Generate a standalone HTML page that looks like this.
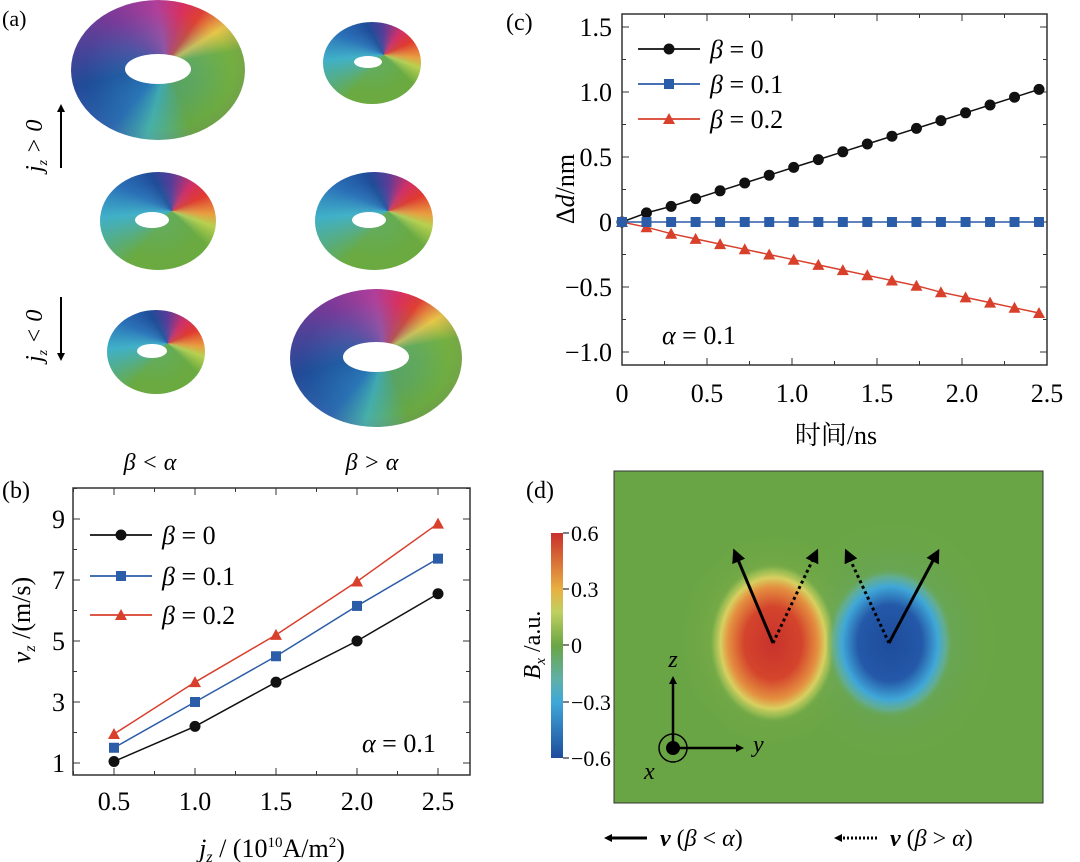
<!DOCTYPE html>
<html><head><meta charset="utf-8">
<style>
html,body{margin:0;padding:0;background:#fff;}
svg{display:block;}
svg text{font-family:"Liberation Serif","Times New Roman",serif;}
svg text.cjk{font-family:"Liberation Serif","Noto Serif CJK SC","Noto Sans CJK SC",serif;}
</style></head>
<body>
<svg id="fig" width="1080" height="862" viewBox="0 0 1080 862" xmlns="http://www.w3.org/2000/svg">
<defs>
<radialGradient id="gRed" cx="50%" cy="50%" r="50%">
<stop offset="0" stop-color="#c8322c"/><stop offset="0.45" stop-color="#d4442c"/><stop offset="0.7" stop-color="#e49040"/><stop offset="0.82" stop-color="#d8d060"/><stop offset="0.92" stop-color="#a8c458" stop-opacity="0.6"/><stop offset="1" stop-color="#6aa545" stop-opacity="0"/>
</radialGradient>
<radialGradient id="gBlue" cx="50%" cy="50%" r="50%">
<stop offset="0" stop-color="#1e4c9c"/><stop offset="0.5" stop-color="#2458a8"/><stop offset="0.75" stop-color="#40a8d8"/><stop offset="0.88" stop-color="#60b0a8" stop-opacity="0.7"/><stop offset="1" stop-color="#6aa545" stop-opacity="0"/>
</radialGradient>
<radialGradient id="gHaloR" cx="50%" cy="50%" r="50%">
<stop offset="0" stop-color="#c8c850" stop-opacity="0.8"/><stop offset="1" stop-color="#6aa545" stop-opacity="0"/>
</radialGradient>
<radialGradient id="gHaloB" cx="50%" cy="50%" r="50%">
<stop offset="0" stop-color="#60a8a0" stop-opacity="0.8"/><stop offset="1" stop-color="#6aa545" stop-opacity="0"/>
</radialGradient>
<linearGradient id="gBar" x1="0" y1="0" x2="0" y2="1">
<stop offset="0" stop-color="#c8302c"/><stop offset="0.25" stop-color="#e8b040"/><stop offset="0.35" stop-color="#c0d060"/><stop offset="0.5" stop-color="#6aa545"/><stop offset="0.65" stop-color="#60b0a8"/><stop offset="0.75" stop-color="#40a8d8"/><stop offset="1" stop-color="#1e4c9c"/>
</linearGradient>
<marker id="ah" markerWidth="8" markerHeight="8" refX="4" refY="4" orient="auto" markerUnits="userSpaceOnUse" viewBox="0 0 8 8"><path d="M0,0 L8,4 L0,8 z" fill="#000"/></marker>
<marker id="ahBig" markerWidth="14" markerHeight="14" refX="7" refY="7" orient="auto" markerUnits="userSpaceOnUse" viewBox="0 0 14 14"><path d="M0,0 L14,7 L0,14 z" fill="#000"/></marker>
</defs>

<!-- Panel (a) -->
<text x="2" y="26" font-size="22">(a)</text>
<g id="tori"></g>
<g>
<line x1="61" y1="168" x2="61" y2="108" stroke="#000" stroke-width="2" marker-end="url(#ah)"/>
<text transform="translate(42,172) rotate(-90)" font-size="24" font-style="italic">j<tspan font-size="14" dy="5">z</tspan><tspan dy="-5"> &gt; 0</tspan></text>
</g>
<g>
<line x1="61" y1="297" x2="61" y2="357" stroke="#000" stroke-width="2" marker-end="url(#ah)"/>
<text transform="translate(42,362) rotate(-90)" font-size="24" font-style="italic">j<tspan font-size="14" dy="5">z</tspan><tspan dy="-5"> &lt; 0</tspan></text>
</g>
<text x="150" y="470" font-size="24" font-style="italic" text-anchor="middle">β &lt; α</text>
<text x="372" y="470" font-size="24" font-style="italic" text-anchor="middle">β &gt; α</text>

<!-- Panel (b) -->
<text x="2" y="498" font-size="24">(b)</text>
<g id="chartB"></g>

<!-- Panel (c) -->
<text x="506" y="30" font-size="24">(c)</text>
<g id="chartC"></g>

<!-- Panel (d) -->
<text x="526" y="498" font-size="24">(d)</text>
<g>
<rect x="614" y="471" width="429" height="332" fill="#6aa545" stroke="#333" stroke-width="1"/>
<ellipse cx="773" cy="640" rx="100" ry="115" fill="url(#gHaloR)"/>
<ellipse cx="892" cy="640" rx="110" ry="125" fill="url(#gHaloB)"/>
<ellipse cx="773" cy="643" rx="64" ry="80" fill="url(#gRed)"/>
<ellipse cx="890" cy="643" rx="64" ry="76" fill="url(#gBlue)"/>
<line x1="773" y1="643" x2="736" y2="555" stroke="#000" stroke-width="3" marker-end="url(#ahBig)"/>
<line x1="773" y1="643" x2="815" y2="555" stroke="#000" stroke-width="3" stroke-dasharray="3,3" marker-end="url(#ahBig)"/>
<line x1="889" y1="643" x2="936" y2="555" stroke="#000" stroke-width="3" marker-end="url(#ahBig)"/>
<line x1="889" y1="643" x2="848" y2="555" stroke="#000" stroke-width="3" stroke-dasharray="3,3" marker-end="url(#ahBig)"/>
<g>
<circle cx="673" cy="748" r="14" fill="none" stroke="#000" stroke-width="1.5"/>
<circle cx="673" cy="748" r="7" fill="#000"/>
<line x1="673" y1="748" x2="673" y2="680" stroke="#000" stroke-width="2.5" marker-end="url(#ah)"/>
<line x1="673" y1="748" x2="740" y2="748" stroke="#000" stroke-width="2.5" marker-end="url(#ah)"/>
<text x="673" y="667" font-size="24" font-style="italic" text-anchor="middle">z</text>
<text x="753" y="752" font-size="24" font-style="italic">y</text>
<text x="644" y="779" font-size="24" font-style="italic">x</text>
</g>
</g>
<g>
<rect x="551" y="533" width="12" height="225" fill="url(#gBar)"/>
<g stroke="#000" stroke-width="1"><line x1="563" y1="533" x2="569" y2="533"/><line x1="563" y1="589" x2="569" y2="589"/><line x1="563" y1="645" x2="569" y2="645"/><line x1="563" y1="702" x2="569" y2="702"/><line x1="563" y1="758" x2="569" y2="758"/></g>
<g font-size="22"><text x="571" y="541">0.6</text><text x="571" y="597">0.3</text><text x="571" y="653">0</text><text x="571" y="710">−0.3</text><text x="571" y="766">−0.6</text></g>
<text transform="translate(540,645) rotate(-90)" font-size="24" text-anchor="middle"><tspan font-style="italic">B</tspan><tspan font-style="italic" font-size="15" dy="5">x</tspan><tspan dy="-5"> /a.u.</tspan></text>
</g>
<g>
<line x1="647" y1="838" x2="608" y2="838" stroke="#000" stroke-width="3" marker-end="url(#ah)"/>
<text x="660" y="846" font-size="24"><tspan font-weight="bold" font-style="italic">v</tspan> (<tspan font-style="italic">β</tspan> &lt; <tspan font-style="italic">α</tspan>)</text>
<line x1="877" y1="838" x2="838" y2="838" stroke="#000" stroke-width="3" stroke-dasharray="2,2" marker-end="url(#ah)"/>
<text x="890" y="846" font-size="24"><tspan font-weight="bold" font-style="italic">v</tspan> (<tspan font-style="italic">β</tspan> &gt; <tspan font-style="italic">α</tspan>)</text>
</g>
</svg>

<script>
// ===== Panel (b) data =====
const bCurrents = [0.5, 1.0, 1.5, 2.0, 2.5];
const bBeta0 = [1.05, 2.2, 3.65, 5.0, 6.55];
const bBeta01 = [1.5, 3.0, 4.5, 6.15, 7.7];
const bBeta02 = [1.95, 3.65, 5.2, 6.95, 8.85];
const bYTicks = [1, 3, 5, 7, 9];
const bXTickLabels = ["0.5", "1.0", "1.5", "2.0", "2.5"];

// ===== Panel (c) data =====
const cTimes = [0,0.144,0.289,0.433,0.577,0.722,0.866,1.01,1.155,1.299,1.443,1.588,1.732,1.876,2.021,2.165,2.309,2.453];
const cBeta0 = [0,0.07,0.12,0.18,0.24,0.30,0.36,0.42,0.48,0.54,0.60,0.66,0.72,0.78,0.84,0.90,0.96,1.02];
const cBeta01 = [0,0,0,0,0,0,0,0,0,0,0,0,0,0,0,0,0,0];
const cBeta02 = [0,-0.04,-0.09,-0.13,-0.17,-0.21,-0.25,-0.29,-0.33,-0.37,-0.41,-0.45,-0.49,-0.54,-0.58,-0.62,-0.66,-0.70];
const cYTicks = [1.5, 1.0, 0.5, 0, -0.5, -1.0];
const cYTickLabels = ["1.5", "1.0", "0.5", "0", "−0.5", "−1.0"];
const cXTicks = [0, 0.5, 1.0, 1.5, 2.0, 2.5];
const cXTickLabels = ["0", "0.5", "1.0", "1.5", "2.0", "2.5"];

const NS = "http://www.w3.org/2000/svg";
function mk(tag, attrs, parent){ const e=document.createElementNS(NS,tag); for(const k in attrs) e.setAttribute(k,attrs[k]); parent.appendChild(e); return e; }

function marker(g, kind, x, y, color){
  let m;
  if(kind==="circle") m=mk("circle",{cx:x,cy:y,r:5.5,fill:color},g);
  else if(kind==="square") m=mk("rect",{x:x-5,y:y-5,width:10,height:10,fill:color},g);
  else m=mk("path",{d:`M${x},${y-6} L${x+6},${y+5} L${x-6},${y+5} Z`,fill:color},g);
  return m;
}

function drawSeries(g, xs, ys, sx, sy, color, kind, name){
  const s=mk("g",{},g);
  
  
  const pts=xs.map((x,i)=>sx(x)+","+sy(ys[i])).join(" ");
  mk("polyline",{points:pts,fill:"none",stroke:color,"stroke-width":1.5},s);
  xs.forEach((x,i)=>{
    const m=marker(s,kind,sx(x),sy(ys[i]),color);
    
    
  });
}

function legend(g, x, y, color, kind, label, name){
  const l=mk("g",{},g);
  
  
  mk("line",{x1:x,y1:y,x2:x+62,y2:y,stroke:color,"stroke-width":1.8},l);
  marker(l,kind,x+31,y,color);
  const t=mk("text",{x:x+72,y:y+9,"font-size":26},l);
  t.innerHTML='<tspan font-style="italic">β</tspan> = '+label;
}

// ---- Chart B ----
(function(){
  const g=document.getElementById("chartB");
  const L=73,R=470,T=488,B=775;
  const sx=v=>114+(v-0.5)*(438-114)/2.0;
  const sy=v=>763-(v-1)*(763-519)/8;
  mk("rect",{x:L,y:T,width:R-L,height:B-T,fill:"none",stroke:"#333","stroke-width":1.5},g);
  for(let v=0.25; v<=2.76; v+=0.25){
    const x=sx(v); if(x<=L||x>=R) continue;
    const len = (Math.abs((v*2)-Math.round(v*2))<1e-6)?7:4;
    mk("line",{x1:x,y1:B,x2:x,y2:B-len,stroke:"#333"},g);
    mk("line",{x1:x,y1:T,x2:x,y2:T+len,stroke:"#333"},g);
  }
  for(let v=0; v<=10; v+=1){
    const y=sy(v); if(y<=T||y>=B) continue;
    const len=(v%2===1)?7:4;
    mk("line",{x1:L,y1:y,x2:L+len,y2:y,stroke:"#333"},g);
    mk("line",{x1:R,y1:y,x2:R-len,y2:y,stroke:"#333"},g);
  }
  bYTicks.forEach(v=>{ const t=mk("text",{x:L-8,y:sy(v)+9,"font-size":26,"text-anchor":"end"},g); t.textContent=v; });
  bCurrents.forEach((v,i)=>{ const t=mk("text",{x:sx(v),y:B+35,"font-size":26,"text-anchor":"middle"},g); t.textContent=bXTickLabels[i]; });
  const xt=mk("text",{x:272,y:857,"font-size":26,"text-anchor":"middle"},g);
  xt.innerHTML='<tspan font-style="italic">j</tspan><tspan font-style="italic" font-size="16" dy="5">z</tspan><tspan dy="-5"> / (10</tspan><tspan font-size="15" dy="-10">10</tspan><tspan dy="10">A/m</tspan><tspan font-size="15" dy="-10">2</tspan><tspan dy="10">)</tspan>';
  const yt=mk("text",{transform:"translate(30,620) rotate(-90)","font-size":26,"text-anchor":"middle"},g);
  yt.innerHTML='<tspan font-style="italic">v</tspan><tspan font-style="italic" font-size="16" dy="5">z</tspan><tspan dy="-5"> /(m/s)</tspan>';
  drawSeries(g,bCurrents,bBeta0,sx,sy,"#111","circle","b-series-beta-0");
  drawSeries(g,bCurrents,bBeta01,sx,sy,"#2b5ca8","square","b-series-beta-0.1");
  drawSeries(g,bCurrents,bBeta02,sx,sy,"#d8402c","triangle","b-series-beta-0.2");
  legend(g,90,535,"#111","circle","0","b-legend-beta-0");
  legend(g,90,576,"#2b5ca8","square","0.1","b-legend-beta-0.1");
  legend(g,90,615,"#d8402c","triangle","0.2","b-legend-beta-0.2");
  const a=mk("text",{x:362,y:752,"font-size":26},g);
  a.innerHTML='<tspan font-style="italic">α</tspan> = 0.1';
})();

// ---- Chart C ----
(function(){
  const g=document.getElementById("chartC");
  const L=622,R=1047,T=14,B=365;
  const sx=v=>L+v*(R-L)/2.5;
  const sy=v=>222-v*130;
  mk("rect",{x:L,y:T,width:R-L,height:B-T,fill:"none",stroke:"#333","stroke-width":1.5},g);
  for(let v=0.25; v<2.5; v+=0.25){
    const x=sx(v); const len=(Math.abs(v*2-Math.round(v*2))<1e-6)?7:4;
    mk("line",{x1:x,y1:B,x2:x,y2:B-len,stroke:"#333"},g);
    mk("line",{x1:x,y1:T,x2:x,y2:T+len,stroke:"#333"},g);
  }
  for(let v=-1.0; v<=1.51; v+=0.25){
    const y=sy(v); if(y<=T||y>=B) continue;
    const len=(Math.abs(v*2-Math.round(v*2))<1e-6)?7:4;
    mk("line",{x1:L,y1:y,x2:L+len,y2:y,stroke:"#333"},g);
    mk("line",{x1:R,y1:y,x2:R-len,y2:y,stroke:"#333"},g);
  }
  cYTicks.forEach((v,i)=>{ const t=mk("text",{x:L-10,y:sy(v)+9,"font-size":26,"text-anchor":"end"},g); t.textContent=cYTickLabels[i]; });
  cXTicks.forEach((v,i)=>{ const t=mk("text",{x:sx(v),y:B+37,"font-size":26,"text-anchor":"middle"},g); t.textContent=cXTickLabels[i]; });
  const xt=mk("text",{x:836,y:444,"font-size":26,"text-anchor":"middle","class":"cjk"},g);
  xt.textContent="时间/ns";
  const yt=mk("text",{transform:"translate(574,189) rotate(-90)","font-size":26,"text-anchor":"middle"},g);
  yt.innerHTML='Δ<tspan font-style="italic">d</tspan>/nm';
  drawSeries(g,cTimes,cBeta0,sx,sy,"#111","circle","c-series-beta-0");
  drawSeries(g,cTimes,cBeta02,sx,sy,"#d8402c","triangle","c-series-beta-0.2");
  drawSeries(g,cTimes,cBeta01,sx,sy,"#2b5ca8","square","c-series-beta-0.1");
  legend(g,638,49,"#111","circle","0","c-legend-beta-0");
  legend(g,638,84,"#2b5ca8","square","0.1","c-legend-beta-0.1");
  legend(g,638,119,"#d8402c","triangle","0.2","c-legend-beta-0.2");
  const a=mk("text",{x:662,y:344,"font-size":26},g);
  a.innerHTML='<tspan font-style="italic">α</tspan> = 0.1';
})();

// ---- Tori (panel a) ----
(function(){
  const g=document.getElementById("tori");
  const tori=[[158,70,87,70,33,15,0],[372,63,49,41,14,6,4],[158,221,58,49,17,8,6],[374,221,59,49,17,8,5],[156,352,49,42,15,7,4],[376,358,86,69,33,15,0]];
  tori.forEach((t,i)=>{
    const [cx,cy,rx,ry,hx,hy,off]=t;
    const fo=mk("foreignObject",{x:cx-rx,y:cy-ry,width:rx*2,height:ry*2},g);
    
    
    const big=rx>80;
    const grad=big
      ? "conic-gradient(from -10deg at 55% 45%, #b0409a 0deg, #d83060 25deg, #e04030 45deg, #e8c848 68deg, #74b040 90deg, #68a842 170deg, #48b0a8 205deg, #2a6cb0 230deg, #1f4c98 265deg, #7a3a98 320deg, #b0409a 360deg)"
      : "conic-gradient(from 0deg at 62% 40%, #5a3c98 0deg, #d03068 35deg, #e03a30 65deg, #e8a040 95deg, #b8d050 110deg, #6aaa40 135deg, #6aaa40 220deg, #40b0c8 265deg, #2a70b8 295deg, #1f4c98 330deg, #5a3c98 360deg)";
    const shade=big
      ? "radial-gradient(ellipse at 50% 50%, rgba(40,150,200,0.35) 0%, rgba(40,150,200,0.2) 35%, rgba(0,0,0,0) 60%, rgba(150,40,150,0.25) 100%)"
      : "radial-gradient(ellipse at 50% 50%, rgba(80,180,200,0.25) 0%, rgba(0,0,0,0) 55%)";
    fo.innerHTML='<div xmlns="http://www.w3.org/1999/xhtml" style="width:'+(rx*2)+'px;height:'+(ry*2)+'px;border-radius:50%;background:'+shade+','+grad+';position:relative;"><div style="position:absolute;left:'+(rx-hx-off)+'px;top:'+(ry-hy-1)+'px;width:'+(hx*2)+'px;height:'+(hy*2)+'px;border-radius:50%;background:#fff;"></div></div>';
  });
})();
</script>
</body></html>
